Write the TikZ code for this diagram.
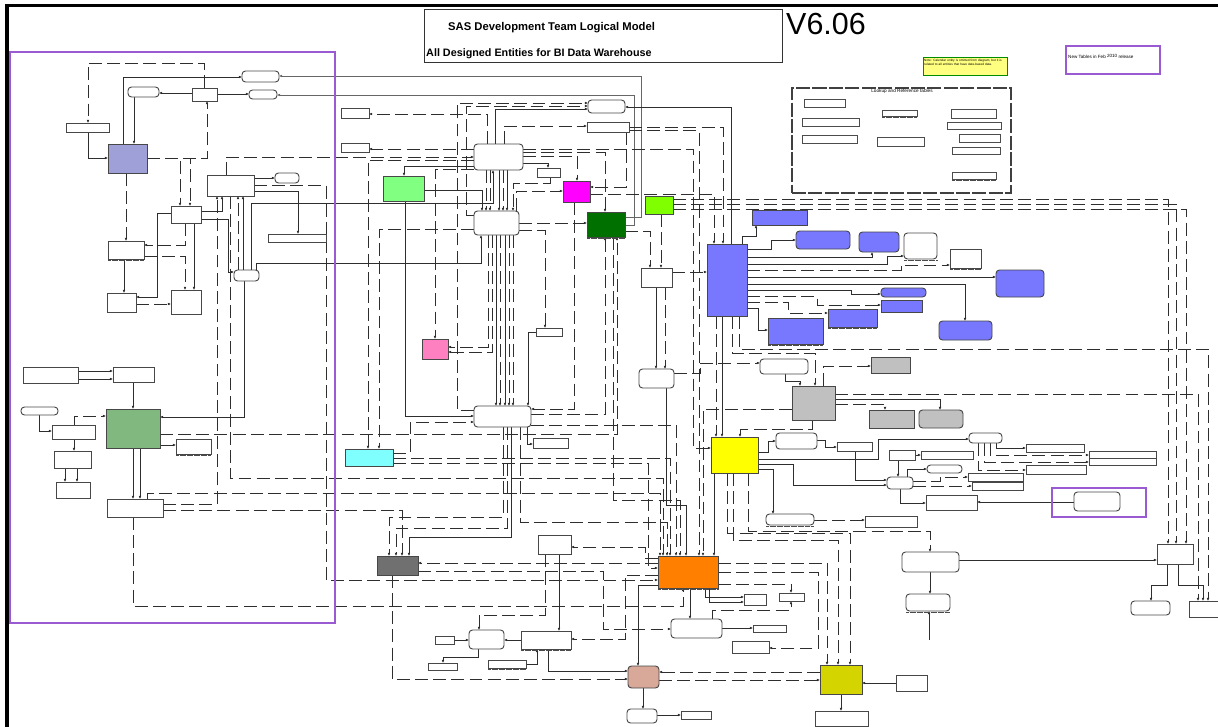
\documentclass[tikz,border=0pt]{standalone}
\usepackage{fontspec}
\setmainfont{Liberation Sans}
\usetikzlibrary{arrows.meta,backgrounds}
\definecolor{cLB}{HTML}{A0A0D8}
\definecolor{cMG}{HTML}{80B880}
\definecolor{cGR}{HTML}{80FF80}
\definecolor{cMA}{HTML}{FF00FF}
\definecolor{cDG}{HTML}{007000}
\definecolor{cLG}{HTML}{80FF00}
\definecolor{cPK}{HTML}{FF80C0}
\definecolor{cCY}{HTML}{80FFFF}
\definecolor{cBL}{HTML}{7878FF}
\definecolor{cGY}{HTML}{C0C0C0}
\definecolor{cYB}{HTML}{FFFF00}
\definecolor{cDGR}{HTML}{707070}
\definecolor{cOR}{HTML}{FF8000}
\definecolor{cBR}{HTML}{D8A898}
\definecolor{cOL}{HTML}{D4D400}
\definecolor{cNote}{HTML}{FFFF80}
\definecolor{cPur}{HTML}{9A5AD2}
\newcommand\mkent[6][]{%
  \pgfmathsetmacro\entw{(#5-#3)*0.853584}%
  \pgfmathsetmacro\enth{(#6-#4)*0.853584}%
  \node[ent,#1,minimum width=\entw pt,minimum height=\enth pt] (#2) at ({(#3+#5)/2},{(#4+#6)/2}) {};}
\begin{document}
\begin{tikzpicture}[x=0.03cm,y=-0.03cm,
  ent/.style={draw=black!72,line width=0.8pt,fill=white,inner sep=0pt,outer sep=0pt},
  rnd/.style={rounded corners=3pt},
  sl/.style={draw=black!82,line width=0.85pt,-{Latex[length=2.6pt,width=2.3pt]}},
  dl/.style={sl,dash pattern=on 11pt off 4.5pt},
  lk/.style={ent,draw=black!70,line width=0.8pt}]
\useasboundingbox (0,0) rectangle (1218,727);
% ---------- title ----------
\mkent[draw=black!80,line width=0.8pt]{TB}{424}{9}{782}{62}
\node[anchor=base west,inner sep=0pt,font=\bfseries\fontsize{9.6}{11}\selectfont] (t1) at (448,31) {SAS Development Team Logical Model};
\node[anchor=base west,inner sep=0pt,font=\bfseries\fontsize{9.2}{11}\selectfont] (t2) at (426,56) {All Designed Entities for BI Data Warehouse};
\node[anchor=base west,inner sep=0pt,font=\fontsize{26}{29}\selectfont] (ver) at (786,34) {V6.06};
% note and legend
\mkent[fill=cNote,draw=green!55!black,line width=0.8pt]{NOTE}{923}{57}{1007}{75}
\node[anchor=north west,inner sep=0pt,text width=70pt,align=left,font=\fontsize{2.7}{3.3}\selectfont] (notet) at (924,59) {Note: Calendar entity is omitted from diagram, but it is related to all entities that have date-based data.};
\mkent[draw=cPur,fill=none,line width=0.9pt]{NEW}{1066}{46}{1160}{74}
\node[anchor=west,inner sep=0pt,font=\fontsize{3.9}{4.5}\selectfont] (newt) at (1068,56) {New Tables in Feb \raisebox{0.8pt}{2010} release};
\mkent[draw=cPur,fill=none,line width=0.9pt]{NEW2}{1052}{488}{1146}{517}
\mkent[draw=cPur,fill=none,line width=0.9pt]{REG}{10}{52}{335}{623}
% lookup box
\mkent[draw=black!75,fill=none,line width=0.9pt,dash pattern=on 12pt off 2pt]{LK}{792}{88}{1011}{193}
\node[anchor=north,inner sep=0pt,font=\fontsize{4}{5}\selectfont] (lkt) at (902,89) {Lookup and Reference tables};
\mkent[lk]{K1}{804}{99}{845}{107}
\mkent[lk]{K2}{802}{118}{859}{126}
\mkent[lk]{K3}{802}{135}{857}{143}
\mkent[lk]{K4}{882}{110}{917}{116}
\mkent[lk]{K5}{877}{137}{924}{146}
\mkent[lk]{K6}{951}{109}{996}{118}
\mkent[lk]{K7}{947}{122}{1001}{129}
\mkent[lk]{K8}{959}{134}{1000}{142}
\mkent[lk]{K9}{952}{147}{1000}{154}
\mkent[lk]{K10}{952}{172}{996}{179}
% ---------- left region ----------
\mkent{L1}{66}{123}{109}{132}
\mkent[fill=cLB]{LB}{108}{144}{147}{173}
\mkent[rnd]{L2}{128}{87}{159}{97}
\mkent{L3}{192}{88}{217}{101}
\mkent[rnd]{L4}{242}{71}{279}{82}
\mkent[rnd]{L5}{249}{90}{277}{99}
\mkent{L6}{207}{175}{254}{196}
\mkent[rnd]{L7}{275}{173}{299}{183}
\mkent{L8}{171}{206}{201}{223}
\mkent{L9}{268}{234}{326}{242}
\mkent{L10}{108}{241}{144}{259}
\mkent[rnd]{L11}{234}{270}{259}{281}
\mkent{L12}{107}{293}{136}{312}
\mkent{L13}{171}{290}{201}{314}
\mkent{M1}{23}{367}{78}{383}
\mkent{M2}{113}{367}{154}{382}
\mkent[rnd]{M3}{21}{407}{58}{415}
\mkent[fill=cMG]{MG}{106}{409}{160}{448}
\mkent{M4}{52}{425}{95}{439}
\mkent{M5}{176}{439}{211}{454}
\mkent{M6}{54}{451}{91}{468}
\mkent{M7}{56}{482}{90}{498}
\mkent{M8}{107}{499}{163}{517}
% ---------- middle ----------
\mkent{T1}{341}{108}{369}{118}
\mkent{T2}{341}{143}{369}{152}
\mkent[rnd]{R1}{474}{144}{523}{170}
\mkent[fill=cGR]{GR}{383}{176}{424}{201}
\mkent{T3}{537}{168}{560}{177}
\mkent[fill=cMA]{MA}{563}{181}{590}{202}
\mkent[rnd]{R2}{474}{211}{519}{235}
\mkent[fill=cDG]{DG}{587}{212}{625}{237}
\mkent[rnd]{R4}{588}{100}{625}{113}
\mkent{T4}{587}{122}{629}{132}
\mkent[fill=cLG]{LG}{645}{196}{673}{214}
\mkent{T5}{536}{328}{562}{336}
\mkent[fill=cPK]{PK}{422}{339}{448}{359}
\mkent[rnd]{R3}{474}{406}{531}{427}
\mkent{T6}{533}{438}{568}{448}
\mkent[fill=cCY]{CY}{345}{449}{393}{466}
\mkent[rnd]{R5}{639}{369}{674}{388}
\mkent{T7}{641}{268}{672}{287}
% ---------- right ----------
\mkent[fill=cBL]{BB}{707}{244}{747}{316}
\mkent[fill=cBL]{B1}{752}{210}{807}{225}
\mkent[fill=cBL,rnd]{B2}{796}{231}{850}{249}
\mkent[fill=cBL,rnd]{B3}{859}{232}{899}{252}
\mkent[rnd]{W1}{904}{233}{937}{259}
\mkent{W2}{950}{249}{981}{268}
\mkent[fill=cBL,rnd]{B4}{996}{270}{1044}{297}
\mkent[fill=cBL,rnd]{B5}{881}{288}{926}{297}
\mkent[fill=cBL]{B6}{881}{300}{922}{312}
\mkent[fill=cBL]{B7}{828}{309}{877}{327}
\mkent[fill=cBL]{B8}{768}{318}{823}{344}
\mkent[fill=cBL,rnd]{B9}{939}{321}{992}{340}
\mkent[rnd]{R6}{760}{359}{808}{374}
\mkent[fill=cGY]{G1}{871}{357}{910}{373}
\mkent[fill=cGY]{GB}{792}{386}{835}{420}
\mkent[fill=cGY]{G2}{869}{410}{914}{428}
\mkent[fill=cGY,rnd]{G3}{919}{410}{963}{428}
\mkent[fill=cYB]{YB}{711}{437}{758}{473}
\mkent[rnd]{R7}{776}{433}{817}{449}
\mkent{T8}{837}{442}{872}{451}
\mkent[rnd]{R8}{969}{433}{1002}{443}
\mkent{T9}{1026}{444}{1084}{452}
\mkent{T10}{889}{450}{915}{460}
\mkent{T11}{921}{451}{973}{459}
\mkent{T12}{1089}{451}{1156}{458}
\mkent{T13}{1089}{458}{1156}{465}
\mkent[rnd]{R9}{927}{465}{962}{473}
\mkent{T14}{1026}{465}{1086}{474}
\mkent{T15}{968}{473}{1023}{481}
\mkent[rnd]{R10}{887}{477}{913}{489}
\mkent{T16}{972}{482}{1023}{490}
\mkent{T17}{926}{495}{977}{510}
\mkent[rnd]{R11}{1074}{492}{1120}{511}
\mkent[rnd]{R12}{766}{514}{814}{525}
\mkent{T18}{865}{516}{917}{527}
% ---------- bottom ----------
\mkent[fill=cDGR]{DGR}{377}{556}{418}{575}
\mkent{T19}{538}{535}{571}{554}
\mkent[fill=cOR]{OR}{658}{556}{718}{588}
\mkent{T20}{744}{594}{766}{605}
\mkent{T21}{779}{593}{804}{601}
\mkent[rnd]{R13}{671}{619}{722}{638}
\mkent{T22}{753}{625}{786}{632}
\mkent{T23}{732}{641}{769}{653}
\mkent{T24}{435}{636}{454}{644}
\mkent[rnd]{R14}{469}{630}{504}{649}
\mkent{T25}{521}{631}{571}{649}
\mkent{T26}{428}{663}{457}{670}
\mkent{T27}{488}{660}{526}{668}
\mkent[fill=cBR,rnd]{BR}{628}{666}{659}{688}
\mkent[rnd]{R15}{627}{709}{657}{723}
\mkent{T28}{681}{711}{711}{719}
\mkent[fill=cOL]{OL}{820}{665}{862}{694}
\mkent{T29}{815}{711}{868}{726}
\mkent{T30}{896}{675}{927}{691}
\mkent[rnd]{R16}{902}{552}{959}{572}
\mkent[rnd]{R17}{906}{594}{950}{611}
\mkent{T31}{1157}{544}{1193}{564}
\mkent[rnd]{R18}{1131}{601}{1170}{615}
\mkent{T32}{1189}{601}{1218}{617}
\coordinate (e1) at (929,640);
% fringes
\foreach \n in {L10,DG,B7,B8,W1,W2,R12,T25,OR,M5,R17,T27,K4,K10}
  \draw[black!70,line width=1.1pt,dash pattern=on 0.4pt off 0.6pt] ([yshift=-1.1pt]\n.south west) -- ([yshift=-1.1pt]\n.south east);
% frame
\draw[line width=2.6pt] (7,727) -- (7,5.5) -- (1218,5.5);
% ---------- connectors ----------
\begin{pgfonlayer}{background}
\fill[white] (0,0) rectangle (1218,727);
% left region
\draw[dl] (L3.north-|204,0) -- (204,63) -| (L1.north-|88,0);
\draw[sl] (LB.north-|123,0) |- (L4.west|-0,77);
\draw[sl,draw=black!60] (DG.east|-0,217) -| (641,76) -- (L4.east|-0,76);
\draw[sl,draw=black!60] (DG.east|-0,225) -| (634,95) -- (L5.east|-0,95);
\draw[sl] (L3.west|-0,93) -- (L2.east|-0,93);
\draw[sl] (L3.east|-0,94) -- (L5.west|-0,94);
\draw[sl] (L2.south-|134,0) -- (LB.north-|134,0);
\draw[sl] (L1.south-|88,0) |- (LB.west|-0,158);
\draw[dl] (LB.east|-0,158) -| (L3.south-|207,0);
\draw[dl] (LB.east|-0,158) -| (L8.north-|180,0);
\draw[dl] (LB.east|-0,158) -| (L8.north-|190,0);
\draw[dl] (LB.south-|126,0) -- (L10.north-|126,0);
\draw[dl] (L8.south-|185,0) |- (L10.east|-0,245);
\draw[dl] (L10.east|-0,256) -| (L13.north-|185,0);
\draw[sl] (L8.south-|194,0) -- (L13.north-|194,0);
\draw[sl] (L8.west|-0,213) -| (157,297) -- (L12.east|-0,297);
\draw[dl] (L12.east|-0,304) -- (L13.west|-0,304);
\draw[sl] (L10.south-|124,0) -- (L12.north-|124,0);
\draw[sl] (L8.east|-0,211) -| (L6.south-|222,0);
\draw[sl] (L8.east|-0,219) -| (228,272) -- (L11.west|-0,272);
\draw[sl] (L6.east|-0,178) -- (L7.west|-0,178);
\draw[sl] (L6.east|-0,191) -| (L9.north-|298,0);
\draw[dl] (L6.north-|226,0) |- (R1.west|-0,157);
\draw[dl] (L6.east|-0,185) -| (326,580) -- (OR.west|-0,580);
\draw[sl] (L11.north-|243,0) -- (L6.south-|243,0);
\draw[dl] (L11.north-|238,0) -- (L6.south-|238,0);
\draw[sl] (L11.north-|251,0) |- (493,203) -- (R1.south-|493,0);
\draw[sl] (L11.north-|256,0) |- (481,263) -- (R2.south-|481,0);
\draw[sl] (L11.south-|244,0) |- (MG.east|-0,417);
% lower left
\draw[sl] (M1.east|-0,371) -- (M2.west|-0,371);
\draw[sl] (M1.east|-0,379) -- (M2.west|-0,379);
\draw[sl] (M2.south-|133,0) -- (MG.north-|133,0);
\draw[sl] (M3.south-|39,0) |- (M4.west|-0,431);
\draw[dl] (M4.north-|74,0) |- (MG.west|-0,416);
\draw[sl] (M4.south-|74,0) -- (M6.north-|74,0);
\draw[sl] (M6.south-|65,0) -- (M7.north-|65,0);
\draw[sl] (M6.south-|77,0) -- (M7.north-|77,0);
\draw[sl] (MG.east|-0,445) -- (M5.west|-0,445);
\draw[sl] (MG.south-|133,0) -- (M8.north-|133,0);
\draw[sl] (MG.south-|140,0) -- (M8.north-|140,0);
\draw[dl] (MG.east|-0,434) -| (DG.south-|617,0);
\draw[dl] (M8.east|-0,504) -| (L6.south-|217,0);
\draw[dl] (M8.east|-0,510) -| (DGR.north-|402,0);
\draw[dl] (M8.south-|133,0) |- (683,606) -- (OR.south-|683,0);
\draw[dl] (M8.north-|147,0) |- (660,493) -- (OR.north-|660,0);
\draw[dl] (L6.south-|230,0) |- (663,478) -- (OR.north-|663,0);
% middle
\draw[dl] (R1.north-|487,0) |- (T1.east|-0,114);
\draw[dl] (R1.west|-0,149) -- (T2.east|-0,149);
\draw[dl] (R3.west|-0,410) -| (457,103) -- (R4.west|-0,103);
\draw[dl] (R2.west|-0,215) -| (466,106) -- (R4.west|-0,106);
\draw[sl] (R1.north-|495,0) |- (R4.west|-0,109);
\draw[dl] (R1.north-|504,0) |- (T4.west|-0,126);
\draw[dl] (T4.east|-0,127) -| (BB.north-|723,0);
\draw[sl] (BB.north-|731,0) |- (R4.east|-0,107);
\draw[dl] (T4.south-|626,0) |- (MA.east|-0,187);
\draw[dl] (R1.east|-0,149) -| (693,448) -- (YB.west|-0,448);
\draw[dl] (R1.east|-0,156) -| (MA.north-|577,0);
\draw[dl] (R1.east|-0,152) -| (DG.north-|605,0);
\draw[sl] (R1.east|-0,163) -| (T3.north-|548,0);
\draw[dl] (T3.south-|550,0) |- (513,183) -- (R2.north-|513,0);
\draw[dl] (R2.north-|516,0) |- (MA.west|-0,191);
\draw[dl] (MA.south-|574,0) |- (R3.east|-0,409);
\draw[dl] (R2.east|-0,223) -- (DG.west|-0,223);
\draw[dl] (MA.east|-0,194) -| (BB.north-|714,0);
\draw[dl] (R2.east|-0,230) -| (T5.north-|545,0);
\draw[sl] (T5.west) -| (R3.north-|528,0);
\draw[dl] (R1.west|-0,160) -| (CY.north-|368,0);
\draw[dl] (R2.west|-0,229) -| (CY.north-|379,0);
\draw[dl] (CY.east|-0,453) -| (410,422) -- (R3.west|-0,422);
\draw[dl] (CY.east|-0,458) -| (OR.north-|670,0);
\draw[dl] (CY.east|-0,463) -| (648,568) -- (OR.west|-0,568);
\draw[sl] (GR.south-|405,0) |- (R3.west|-0,416);
\draw[sl] (GR.east|-0,190) -| (R2.north-|482,0);
\draw[sl] (R1.west|-0,166) -| (GR.north-|404,0);
\draw[dl] (R1.west|-0,169) -| (PK.north-|435,0);
\draw[dl] (R2.south-|488,0) |- (PK.east|-0,347);
\draw[dl] (R2.south-|492,0) |- (PK.east|-0,352);
\draw[dl] (R1.south-|486,0) -- (R2.north-|486,0);
\draw[dl] (R1.south-|490,0) -- (R2.north-|490,0);
\draw[sl] (R1.south-|499,0) -- (R2.north-|499,0);
\draw[dl] (R1.south-|503,0) -- (R2.north-|503,0);
\draw[sl] (R1.south-|507,0) -- (R2.north-|507,0);
\draw[sl] (R2.south-|496,0) -- (R3.north-|496,0);
\draw[dl] (R2.south-|500,0) -- (R3.north-|500,0);
\draw[sl] (R2.south-|505,0) -- (R3.north-|505,0);
\draw[dl] (R2.south-|509,0) -- (R3.north-|509,0);
\draw[dl] (R2.south-|513,0) -- (R3.north-|513,0);
\draw[dl] (R3.east|-0,414) -| (DG.south-|605,0);
\draw[dl] (R3.east|-0,425) -| (OR.north-|676,0);
\draw[dl] (DG.south-|613,0) |- (680,500) -- (OR.north-|680,0);
\draw[sl] (R5.south-|666,0) |- (686,505) -- (OR.north-|686,0);
\draw[dl] (T4.east|-0,130) -| (OR.north-|699,0);
\draw[dl] (GB.west|-0,409) -| (OR.north-|703,0);
\draw[sl] (YB.south-|714,0) -- (OR.north-|714,0);
% light green and T7
\draw[dl] (LG.south-|661,0) -- (T7.north-|661,0);
\draw[dl] (DG.east|-0,231) -| (T7.north-|650,0);
\draw[dl] (T7.east|-0,272) -- (BB.west|-0,272);
\draw[sl] (T7.south-|656,0) -- (R5.north-|656,0);
\draw[dl] (T7.south-|665,0) -- (R5.north-|665,0);
\draw[dl] (LG.east|-0,199) -| (T31.north-|1168,0);
\draw[dl] (LG.east|-0,204) -| (T31.north-|1176,0);
\draw[dl] (LG.east|-0,209) -| (T31.north-|1186,0);
\draw[dl] (BB.south-|739,0) |- (1208,349) -- (T32.north-|1208,0);
\draw[dl] (GB.east|-0,394) -| (T32.north-|1198,0);
% blue entity
\draw[sl] (BB.north-|742,0) |- (756,236) -- (B1.south-|756,0);
\draw[sl] (BB.east|-0,249) -| (771,240) -- (B2.west|-0,240);
\draw[sl] (BB.east|-0,257) -| (B3.south-|872,0);
\draw[sl] (BB.east|-0,264) -| (887,256) -- (W1.west|-0,256);
\draw[dl] (BB.east|-0,270) -| (901,265) -- (W2.west|-0,265);
\draw[sl] (BB.east|-0,277) -- (B4.west|-0,277);
\draw[sl] (BB.east|-0,284) -| (B9.north-|965,0);
\draw[sl] (BB.east|-0,290) -| (851,294) -- (B5.west|-0,294);
\draw[dl] (BB.east|-0,296) -| (817,305) -- (B6.west|-0,305);
\draw[dl] (BB.east|-0,302) -| (788,313) -- (B7.west|-0,313);
\draw[sl] (BB.east|-0,308) -| (758,330) -- (B8.west|-0,330);
\draw[dl] (BB.south-|732,0) |- (815,353) -- (GB.north-|815,0);
\draw[dl] (GB.north-|823,0) |- (G1.west|-0,366);
\draw[sl] (BB.south-|722,0) -- (YB.north-|722,0);
\draw[dl] (BB.south-|716,0) -- (YB.north-|716,0);
% gray / yellow
\draw[dl] (R5.east|-0,373) -| (700,363) -- (R6.west|-0,363);
\draw[sl] (R6.south-|785,0) |- (800,381) -- (GB.north-|800,0);
\draw[dl] (GB.south-|812,0) |- (740,429) -- (YB.north-|740,0);
\draw[sl] (GB.east|-0,399) -| (G3.north-|940,0);
\draw[dl] (GB.east|-0,404) -| (G2.north-|885,0);
\draw[sl] (YB.east|-0,452) -| (768,441) -- (R7.west|-0,441);
\draw[sl] (YB.east|-0,459) -| (878,439) -- (R8.west|-0,439);
\draw[sl] (YB.east|-0,464) -| (793,485) -- (R10.west|-0,485);
\draw[sl] (YB.east|-0,469) -| (R12.north-|773,0);
\draw[sl] (R7.east|-0,440) -| (825,447) -- (T8.west|-0,447);
\draw[sl] (T8.south-|855,0) |- (R10.west|-0,480);
\draw[sl] (T10.east|-0,455) -- (T11.west|-0,455);
\draw[sl] (T10.south-|898,0) -- (R10.north-|898,0);
\draw[sl] (R10.north-|907,0) |- (R9.west|-0,469);
\draw[dl] (R10.east|-0,481) -| (940,477) -- (T15.west|-0,477);
\draw[dl] (R10.east|-0,486) -- (T16.west|-0,486);
\draw[sl] (R10.south-|900,0) |- (T17.west|-0,503);
\draw[sl] (R11.west|-0,502) -- (T17.east|-0,502);
\draw[sl] (R8.south-|996,0) |- (T9.west|-0,448);
\draw[dl] (R8.south-|990,0) |- (T12.west|-0,455);
\draw[dl] (R8.south-|984,0) |- (T13.west|-0,462);
\draw[dl] (R8.south-|978,0) |- (T14.west|-0,470);
\draw[dl] (R12.east|-0,520) -- (T18.west|-0,520);
% right bottom
\draw[sl] (R16.east|-0,560) -- (T31.west|-0,560);
\draw[dl] (YB.south-|748,0) |- (930,531) -- (R16.north-|930,0);
\draw[sl] (R16.south-|930,0) -- (R17.north-|930,0);
\draw[sl] (e1) -- (R17.south-|929,0);
\draw[sl] (T31.south-|1167,0) |- (1151,585) -- (R18.north-|1151,0);
\draw[sl] (T31.south-|1178,0) |- (1203,585) -- (T32.north-|1203,0);
\draw[dl] (YB.south-|727,0) |- (850,533) -- (OL.north-|850,0);
\draw[dl] (YB.south-|733,0) |- (838,540) -- (OL.north-|838,0);
\draw[dl] (OR.east|-0,563) -| (OL.north-|827,0);
\draw[dl] (OR.east|-0,572) -| (818,648) -- (T23.east|-0,648);
% bottom
\draw[dl] (R3.south-|503,0) |- (389,517) -- (DGR.north-|389,0);
\draw[dl] (R3.south-|507,0) |- (396,528) -- (DGR.north-|396,0);
\draw[sl] (R3.south-|511,0) |- (409,537) -- (DGR.north-|409,0);
\draw[dl] (R3.south-|520,0) |- (667,522) -- (OR.north-|667,0);
\draw[sl] (R3.south-|527,0) |- (T6.west|-0,444);
\draw[dl] (OR.west|-0,563) -- (DGR.east|-0,563);
\draw[dl] (DGR.east|-0,571) -| (603,629) -- (R13.west|-0,629);
\draw[dl] (DGR.south-|392,0) |- (BR.west|-0,679);
\draw[dl] (OR.west|-0,558) -| (645,547) -- (T19.east|-0,547);
\draw[dl] (T19.south-|545,0) |- (479,615) -- (R14.north-|479,0);
\draw[sl] (T19.south-|559,0) -- (T25.north-|559,0);
\draw[sl] (T25.west|-0,640) -- (R14.east|-0,640);
\draw[sl] (T24.east|-0,640) -- (R14.west|-0,640);
\draw[sl] (R14.south-|478,0) |- (443,657) -- (T26.north-|443,0);
\draw[sl] (T27.east|-0,664) -| (T25.south-|537,0);
\draw[sl] (T25.south-|548,0) |- (BR.west|-0,671);
\draw[dl] (OR.west|-0,575) -| (625,639) -- (T25.east|-0,639);
\draw[sl] (OR.south-|690,0) -- (R13.north-|690,0);
\draw[sl] (OR.south-|705,0) |- (T20.west|-0,597);
\draw[sl] (OR.south-|709,0) |- (T20.west|-0,602);
\draw[dl] (R13.north-|712,0) |- (791,610) -- (T21.south-|791,0);
\draw[dl] (OR.east|-0,584) -| (T21.north-|791,0);
\draw[sl] (OR.west|-0,585) -| (BR.north-|638,0);
\draw[sl] (BR.south-|643,0) -- (R15.north-|643,0);
\draw[sl] (R15.east|-0,715) -- (T28.west|-0,715);
\draw[dl] (OL.west|-0,672) -- (BR.east|-0,672);
\draw[dl] (BR.east|-0,680) -- (OL.west|-0,680);
\draw[sl] (OL.south-|841,0) -- (T29.north-|841,0);
\draw[sl] (T30.west|-0,683) -- (OL.east|-0,683);
\draw[sl] (R13.east|-0,628) -- (T22.west|-0,628);
\end{pgfonlayer}
\end{tikzpicture}
\end{document}
